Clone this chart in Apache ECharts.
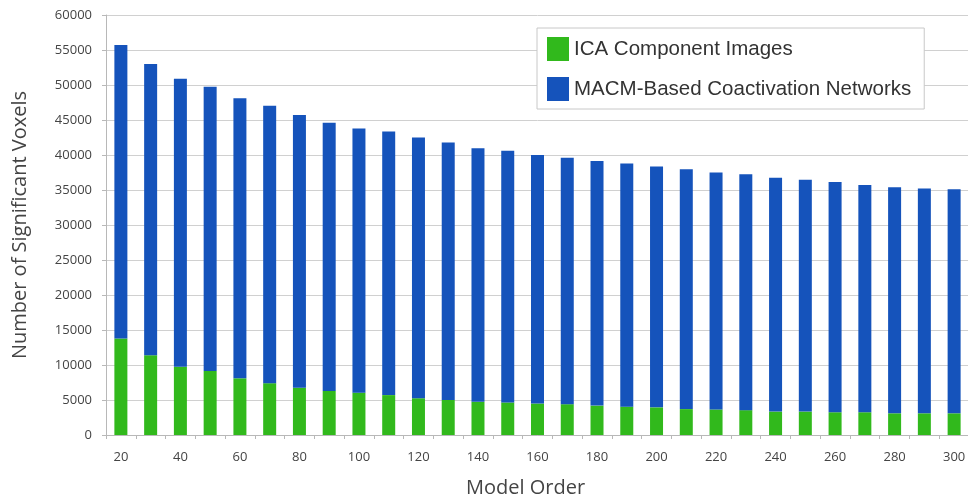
<!DOCTYPE html>
<html>
<head>
<meta charset="utf-8">
<script src="https://cdn.jsdelivr.net/npm/echarts@6/dist/echarts.min.js"></script>
<style>
  html, body { margin: 0; padding: 0; background: #fff; }
  #chart { width: 968px; height: 496px; }
</style>
</head>
<body>
<div id="chart"></div>
<script>
const modelOrders = ['20', '30', '40', '50', '60', '70', '80', '90', '100', '110', '120', '130', '140', '150',
  '160', '170', '180', '190', '200', '210', '220', '230', '240', '250', '260', '270', '280', '290', '300'];

// green part of each bar
const icaImages = [13800, 11400, 9750, 9150, 8100, 7400, 6750, 6300, 6050, 5700, 5250, 5000, 4750, 4650,
  4500, 4400, 4200, 4050, 3950, 3700, 3650, 3550, 3350, 3350, 3250, 3250, 3100, 3100, 3100];

// blue part stacked on top
const macmNetworks = [41900, 41600, 41150, 40600, 40000, 39650, 38950, 38300, 37750, 37650, 37250, 36800, 36200, 35950,
  35500, 35200, 34950, 34750, 34400, 34250, 33850, 33700, 33400, 33100, 32900, 32450, 32300, 32100, 32000];

const yTicks = [0, 5000, 10000, 15000, 20000, 25000, 30000, 35000, 40000, 45000, 50000, 55000, 60000];

const chart = echarts.init(document.getElementById('chart'));

chart.setOption({
  animation: false,
  textStyle: { fontFamily: 'Open Sans' },
  grid: { left: 106, top: 15, width: 863, height: 420, outerBoundsMode: 'none', containLabel: false },
  legend: {
    orient: 'vertical',
    left: 537,
    top: 28,
    width: 400,
    padding: [9, 13, 8, 10],
    itemWidth: 22,
    itemHeight: 24,
    itemGap: 16,
    borderColor: '#c8c8c8',
    borderWidth: 1,
    backgroundColor: '#fff',
    icon: 'rect',
    textStyle: { fontFamily: 'Liberation Sans', fontSize: 20.5, color: '#333' },
    data: ['ICA Component Images', 'MACM-Based Coactivation Networks']
  },
  xAxis: {
    type: 'category',
    data: modelOrders,
    name: 'Model Order',
    nameLocation: 'middle',
    nameGap: 43,
    nameTextStyle: { fontSize: 20, color: '#444', padding: [0, 24, 0, 0] },
    axisLine: { lineStyle: { color: '#b8b8b8' } },
    axisTick: { show: true, interval: 0, length: 4, lineStyle: { color: '#b8b8b8' } },
    axisLabel: { interval: 1, fontSize: 13, color: '#444', margin: 16 },
    splitLine: { show: false }
  },
  yAxis: {
    type: 'value',
    min: 0,
    max: yTicks[yTicks.length - 1],
    interval: 5000,
    name: 'Number of Significant Voxels',
    nameLocation: 'middle',
    nameGap: 76,
    nameTextStyle: { fontSize: 20, color: '#444' },
    axisLine: { show: true, lineStyle: { color: '#b8b8b8' } },
    axisTick: { show: true, length: 4, lineStyle: { color: '#b8b8b8' } },
    axisLabel: { fontSize: 13, color: '#444', margin: 14, formatter: v => String(v) },
    splitLine: { lineStyle: { color: '#d0d0d0' } }
  },
  series: [
    {
      name: 'ICA Component Images',
      type: 'bar',
      stack: 'voxels',
      barWidth: 13,
      itemStyle: { color: '#31b91c' },
      data: icaImages
    },
    {
      name: 'MACM-Based Coactivation Networks',
      type: 'bar',
      stack: 'voxels',
      barWidth: 13,
      itemStyle: { color: '#1553bb' },
      data: macmNetworks
    }
  ]
});
</script>
</body>
</html>
